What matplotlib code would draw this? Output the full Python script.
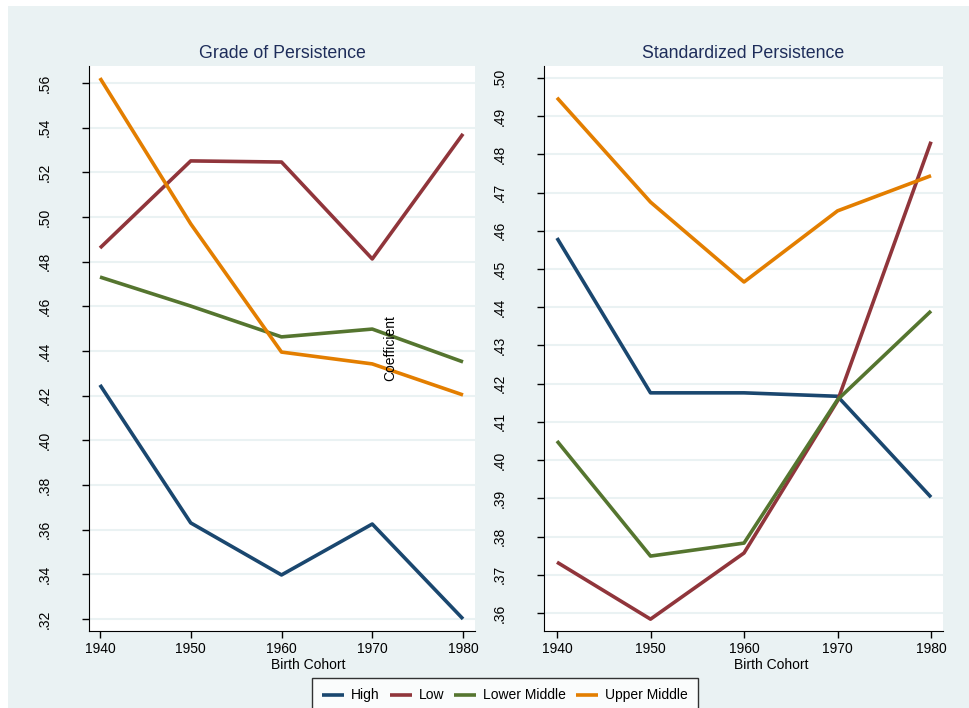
import numpy as np
import matplotlib.pyplot as plt
from matplotlib.patches import Rectangle

plt.rcParams['font.family'] = ['Liberation Sans', 'DejaVu Sans']

cohorts = [1940, 1950, 1960, 1970, 1980]
groups = ["High", "Low", "Lower Middle", "Upper Middle"]
colors = ["#1A476F", "#90353B", "#55752F", "#E37E00"]

# grade of persistence by class group
grade = {
    "High":         [0.4248, 0.3630, 0.3397, 0.3625, 0.3200],
    "Low":          [0.4861, 0.5251, 0.5246, 0.4812, 0.5372],
    "Lower Middle": [0.4731, 0.4601, 0.4463, 0.4498, 0.4351],
    "Upper Middle": [0.5622, 0.4969, 0.4395, 0.4342, 0.4203],
}
# standardized persistence by class group
stand = {
    "High":         [0.4581, 0.4176, 0.4176, 0.4167, 0.3903],
    "Low":          [0.3733, 0.3584, 0.3757, 0.4155, 0.4833],
    "Lower Middle": [0.4050, 0.3749, 0.3783, 0.4158, 0.4390],
    "Upper Middle": [0.4948, 0.4675, 0.4466, 0.4652, 0.4744],
}
grade_ticks = np.round(np.arange(0.32, 0.5601, 0.02), 2)
stand_ticks = np.round(np.arange(0.36, 0.5001, 0.01), 2)

W, H = 969, 708
fig = plt.figure(figsize=(W / 100, H / 100), dpi=100, facecolor="white")
bg = "#EAF2F3"
fig.patches.append(Rectangle((8 / W, 0), 1, 1 - 6 / H, transform=fig.transFigure,
                             facecolor=bg, edgecolor="none", zorder=-10))


def px(x0, y0, x1, y1):
    return [x0 / W, 1 - y1 / H, (x1 - x0) / W, (y1 - y0) / H]


panels = [
    (px(89, 66, 475, 631), grade, grade_ticks, (0.3146, 0.5676), (1938.79, 1981.32),
     "Grade of Persistence", 308),
    (px(544, 66, 943, 631), stand, stand_ticks, (0.3553, 0.5031), (1938.61, 1981.28),
     "Standardized Persistence", 771),
]

for rect, data, ticks, ylim, xlim, title, xlab in panels:
    ax = fig.add_axes(rect)
    ax.set_facecolor("white")
    for g, c in zip(groups, colors):
        ax.plot(cohorts, data[g], color=c, lw=2.6, label=g, solid_capstyle="butt")
    ax.set_ylim(*ylim)
    ax.set_xlim(*xlim)
    ax.set_xticks(cohorts)
    ax.set_yticks(ticks)
    ax.set_yticklabels([("%.2f" % t)[1:] for t in ticks], rotation=90, va="center")
    ax.grid(axis="y", color=bg, lw=1.5)
    ax.set_axisbelow(True)
    for s in ["top", "right"]:
        ax.spines[s].set_visible(False)
    ax.spines["left"].set_color("black")
    ax.spines["bottom"].set_color("black")
    ax.tick_params(axis="y", length=5, width=1, pad=22, labelsize=10)
    ax.tick_params(axis="x", length=5, width=1, pad=3, labelsize=10)
    ax.set_title(title, fontsize=12.8, color="#1E2D5A", pad=6)
    fig.text(xlab / W, 1 - 665 / H, "Birth Cohort", ha="center", va="center", fontsize=10)

fig.text(390 / W, 1 - 348 / H, "Coefficient", rotation=90, ha="center", va="center",
         fontsize=10)

handles, labels = ax.get_legend_handles_labels()
leg = fig.legend(handles, labels, loc="upper center", bbox_to_anchor=(505 / W, 1 - 678 / H),
                 ncol=4, frameon=True, fancybox=False, edgecolor="black", fontsize=10,
                 handlelength=1.6, columnspacing=0.7, handletextpad=0.5,
                 borderpad=0.75, borderaxespad=0)
leg.get_frame().set_linewidth(1)

fig.savefig("out.png", dpi=100, facecolor=fig.get_facecolor())
